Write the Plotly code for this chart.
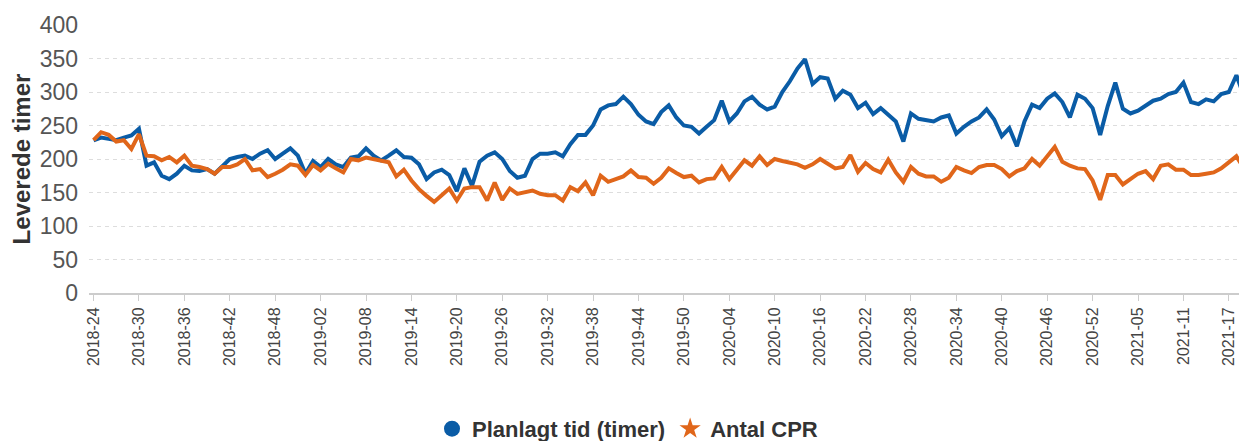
import plotly.graph_objects as go

# ISO week labels 2018-24 .. 2021-19
weeks = []
for yr, first, last in [(2018, 24, 52), (2019, 1, 52), (2020, 1, 53), (2021, 1, 19)]:
    for w in range(first, last + 1):
        weeks.append(f"{yr}-{w:02d}")

planlagt = [
    228, 232, 230, 228, 232, 235, 245, 190, 195, 175,
    170, 178, 190, 183, 182, 185, 178, 190, 200, 203,
    205, 200, 208, 213, 200, 208, 216, 205, 178, 197,
    188, 200, 192, 188, 202, 204, 216, 205, 198, 205,
    213, 203, 202, 192, 170, 180, 184, 176, 152, 186,
    160, 196, 205, 210, 200, 182, 172, 175, 200, 208,
    208, 210, 204, 222, 236, 236, 250, 274, 280, 282,
    293, 282, 266, 256, 252, 270, 280, 262, 250, 248,
    238, 248, 258, 287, 256, 268, 286, 293, 281, 274,
    278, 300, 316, 335, 349, 312, 322, 320, 290, 302,
    296, 276, 284, 267, 276, 266, 256, 226, 268, 260,
    258, 256, 262, 265, 238, 248, 256, 262, 274, 259,
    234, 246, 219, 256, 281, 276, 290, 298, 285, 262,
    296, 290, 276, 236, 279, 314, 275, 268, 272, 280,
    287, 290, 297, 300, 314, 285, 282, 289, 286, 297,
    300, 325, 294,
]

antal_cpr = [
    228, 240, 236, 226, 228, 215, 237, 205, 204, 198,
    203, 195, 205, 190, 188, 185, 178, 188, 188, 192,
    200, 183, 185, 173, 178, 184, 192, 190, 176, 191,
    183, 193, 186, 180, 200, 198, 202, 200, 197, 195,
    174, 184, 168, 155, 145, 136, 146, 156, 138, 156,
    158, 158, 138, 165, 139, 156, 148, 150, 153, 148,
    146, 146, 138, 158, 152, 165, 146, 175, 166, 170,
    174, 183, 173, 172, 163, 172, 186, 179, 173, 175,
    165, 170, 171, 188, 170, 184, 198, 190, 204, 191,
    200, 197, 195, 192, 187, 192, 200, 193, 186, 188,
    206, 181, 194, 185, 180, 199, 180, 166, 188, 178,
    174, 174, 166, 172, 188, 183, 179, 188, 191, 191,
    185, 174, 182, 186, 200, 190, 205, 218, 196, 190,
    186, 185, 168, 139, 176, 176, 162, 170, 178, 182,
    170, 190, 192, 184, 184, 176, 176, 178, 180, 186,
    195, 204, 186,
]

tick_labels = weeks[::6]
y_ticks = [0, 50, 100, 150, 200, 250, 300, 350, 400]

series_names = ["Planlagt tid (timer)", "Antal CPR"]
colors = ["#0a5ca6", "#e0661a"]
symbols = ["circle", "star"]

fig = go.Figure()
for name, vals, col in zip(series_names, [planlagt, antal_cpr], colors):
    fig.add_trace(go.Scatter(
        x=weeks, y=vals, mode="lines", name=name,
        line=dict(color=col, width=4), showlegend=False,
        cliponaxis=True,
    ))
# legend entries with marker symbols
for name, col, sym in zip(series_names, colors, symbols):
    fig.add_trace(go.Scatter(
        x=[None], y=[None], mode="markers", name=name,
        marker=dict(color=col, symbol=sym, size=17),
    ))

# the page body adds an 8px margin, so the figure is 8px smaller
fig.update_layout(
    width=1239, height=433,
    margin=dict(l=81, r=0, t=17, b=148, autoexpand=False),
    paper_bgcolor="white", plot_bgcolor="white",
    font=dict(family="Liberation Sans, Arial, sans-serif", color="#444"),
    legend=dict(
        orientation="h", xref="container", yref="container",
        x=0.5, xanchor="center", y=0.028, yanchor="middle",
        font=dict(size=22, color="#333", weight="bold"),
        itemwidth=30, tracegroupgap=0,
    ),
    xaxis=dict(
        type="category", range=[-0.6, 152.4],
        tickmode="array", tickvals=tick_labels, ticktext=tick_labels,
        tickangle=-90, tickfont=dict(size=16, color="#444"),
        showline=True, linecolor="#cccccc", linewidth=2,
        ticks="outside", ticklen=6, tickcolor="#cccccc", tickwidth=1,
        showgrid=False,
    ),
    yaxis=dict(
        range=[0, 400], tickvals=y_ticks, autorange=False,
        tickfont=dict(size=23, color="#555"),
        showgrid=True, gridcolor="#dddddd", griddash="4px,4px", gridwidth=1,
        zeroline=False, ticklabelstandoff=10,
        title=dict(text="Leverede timer", font=dict(size=24, color="#333", weight="bold"), standoff=8),
    ),
)

fig.write_html("out.html")
